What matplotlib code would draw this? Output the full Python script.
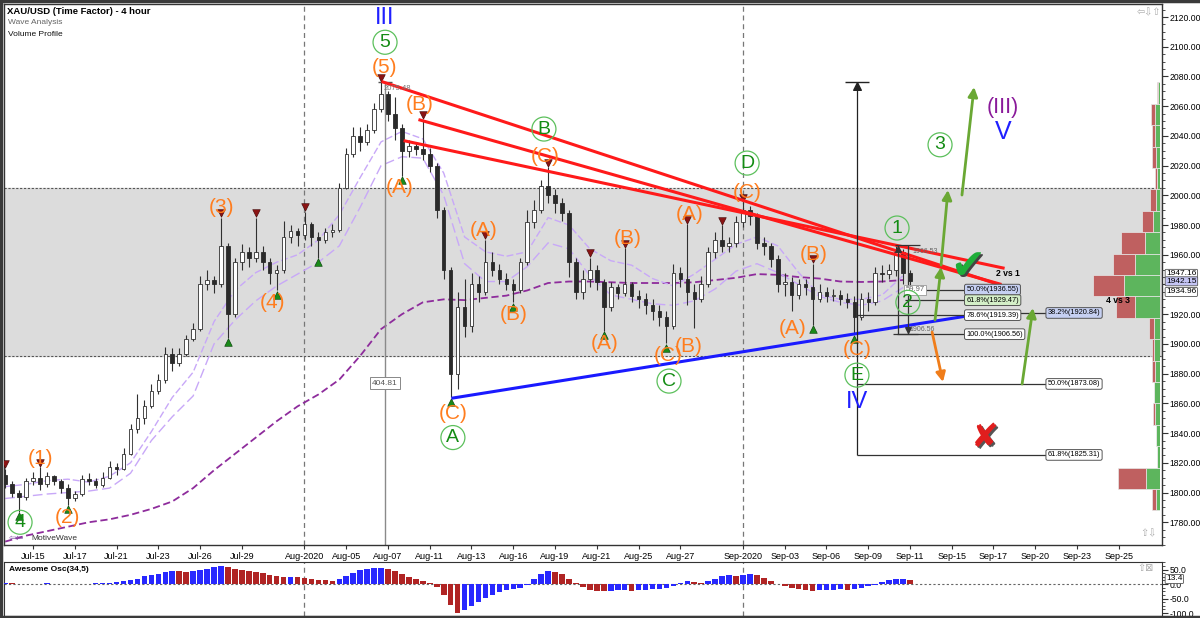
import numpy as np
import matplotlib
matplotlib.use('Agg')
import matplotlib.pyplot as plt
from matplotlib.lines import Line2D

plt.rcParams['font.family'] = ['Liberation Sans', 'DejaVu Sans']

# ---------------- data ----------------
# x axis is counted in trading days, Jul-15 = 0; three price bars per day
first_bar_day = -1.33
bars_per_day = 3
open0 = 1812
close = [1806, 1800, 1797, 1808, 1810, 1806, 1811, 1808, 1803, 1796,
         1799, 1809, 1808, 1805, 1810, 1817, 1816, 1826, 1843, 1850,
         1858, 1868, 1876, 1893, 1887, 1893, 1903, 1910, 1940, 1943,
         1940, 1966, 1920, 1955, 1962, 1958, 1962, 1955, 1948, 1950,
         1972, 1976, 1973, 1981, 1972, 1970, 1975, 1977, 2005, 2028,
         2040, 2036, 2044, 2058, 2068, 2055, 2045, 2030, 2033, 2031,
         2028, 2020, 1990, 1950, 1880, 1925, 1912, 1940, 1935, 1955,
         1950, 1944, 1940, 1936, 1955, 1982, 1990, 2006, 2000, 1995,
         1988, 1955, 1935, 1944, 1950, 1942, 1925, 1938, 1934, 1940,
         1932, 1930, 1926, 1922, 1918, 1912, 1948, 1944, 1935, 1930,
         1940, 1962, 1970, 1966, 1968, 1982, 1990, 1986, 1968, 1966,
         1957, 1940, 1942, 1933, 1940, 1938, 1930, 1935, 1932, 1933,
         1930, 1928, 1918, 1930, 1928, 1948, 1947, 1950, 1962, 1948,
         1942.15]
high = [1816, 1808, 1802, 1810, 1814, 1817, 1814, 1812, 1809, 1806,
        1801, 1812, 1813, 1810, 1814, 1821, 1820, 1830, 1846, 1866,
        1862, 1873, 1880, 1898, 1897, 1897, 1906, 1914, 1946, 1950,
        1946, 1985, 1968, 1958, 1967, 1965, 1985, 1966, 1958, 1953,
        1983, 1980, 1978, 1989, 1982, 1975, 1978, 1981, 2008, 2032,
        2046, 2046, 2048, 2062, 2076, 2070, 2066, 2048, 2037, 2036,
        2051, 2032, 2022, 1992, 1952, 1935, 1944, 1948, 1946, 1970,
        1962, 1954, 1948, 1944, 1958, 1990, 1997, 2010, 2019, 2004,
        1998, 1990, 1958, 1950, 1958, 1953, 1944, 1942, 1940, 1964.5,
        1942, 1936, 1934, 1930, 1926, 1922, 1954, 1952, 1980.7, 1940,
        1946, 1965, 1975, 1980, 1972, 1986, 1995.5, 1993, 1988, 1972,
        1968, 1960, 1948, 1945, 1944, 1944, 1954, 1940, 1938, 1937,
        1936, 1934, 1932, 1934, 1935, 1952, 1953, 1954, 1966.53, 1964,
        1950]
low = [1803, 1797, 1787, 1795, 1805, 1802, 1804, 1805, 1800, 1791.6,
       1794, 1798, 1805, 1803, 1804, 1809, 1812, 1815, 1825, 1840,
       1846, 1857, 1866, 1874, 1882, 1885, 1892, 1902, 1909, 1936,
       1934, 1938, 1904, 1918, 1950, 1952, 1955, 1950, 1940, 1936,
       1948, 1968, 1966, 1970, 1966, 1958, 1968, 1972, 1975, 2004,
       2026, 2030, 2034, 2042, 2056, 2050, 2037, 2013, 2026, 2027,
       2024, 2016, 1985, 1944, 1864, 1870, 1905, 1908, 1928, 1933,
       1946, 1940, 1936, 1928, 1934, 1953, 1978, 1988, 1995, 1988,
       1983, 1945, 1930, 1930, 1938, 1936, 1909, 1922, 1930, 1932,
       1928, 1924, 1920, 1916, 1912, 1900.6, 1910, 1938, 1926, 1911,
       1928, 1938, 1958, 1962, 1962, 1965, 1979, 1980, 1964, 1960,
       1952, 1935, 1932, 1922, 1930, 1933, 1913, 1928, 1928, 1929,
       1926, 1924, 1906.56, 1916, 1922, 1926, 1942, 1944, 1946, 1940,
       1938]
awesome_osc = [3.5, 2.6, 1.7, 1.7, 0.9, 1.7, 2.6, 1.7, 1.7, 0.9,
               0.0, 0.2, 0.9, 2.6, 3.5, 5.2, 7.8, 10.4, 13.0, 19.0,
               26, 30, 35, 40, 44, 43.5, 43, 44.5, 48, 52, 59, 63.5,
               57.4, 52, 48, 44.4, 41, 37.4, 31.3, 26,
               24.4, 25.2, 23.5, 21, 17.4, 14.8, 13, 11.3, 17.4, 28.7,
               39, 47.8, 52, 54, 54.8, 52, 45, 35, 24.4, 17.4,
               10.4, 4.4, -10.4, -39, -74, -100, -91, -76.6, -61, -48.7,
               -36.5, -27.8, -21.8, -17.4, -13.9, -4.4, 19, 34.8, 43.5, 41,
               33, 17.4, 4.4, -10.4, -19, -23.5, -25.2, -23.5, -21.8, -20.9,
               -22.6, -21.8, -19, -17.4, -15.7, -12.2, -5.2, 4.4, 10.4, 7,
               5.2, 11.3, 19, 26, 29.6, 28.7, 31.3, 33, 30.4, 20.9,
               10.4, 1.7, -7, -13.9, -17.4, -20.9, -22.6, -21.8, -20.9, -19,
               -18.3, -20, -17.4, -12.2, -7, -1.7, 7, 12.2, 15.7, 17.4,
               13.4]

# moving averages, one value per day (every third bar)
ma_long = [1767, 1771, 1774, 1777, 1780, 1782, 1785, 1789, 1794, 1803,
           1815, 1826, 1837, 1848, 1858, 1866, 1876, 1892, 1910, 1920,
           1928, 1930, 1929.5, 1931, 1932.5, 1936, 1941, 1942, 1942, 1941.5,
           1941, 1941, 1941, 1941.5, 1943, 1944.5, 1947, 1946.5, 1945, 1944,
           1942, 1941.7, 1942, 1943]
band_upper = [1804, 1805.5, 1808, 1809, 1807, 1811, 1820, 1841, 1864, 1881,
              1915, 1936, 1948, 1955, 1960, 1970, 1987, 2012, 2036, 2043,
              2038, 2015, 1972, 1962, 1959, 1962, 1985, 1980, 1964, 1956,
              1953, 1944, 1939, 1947, 1957, 1967, 1972, 1966, 1948, 1933,
              1930, 1930, 1933, 1946]
band_lower = [1796, 1797.5, 1799, 1800, 1801, 1803, 1813, 1835, 1851, 1865,
              1900, 1916, 1929, 1939, 1947, 1955, 1966, 1992, 2020, 2026,
              2025, 2000, 1954, 1942, 1942, 1952, 1968, 1964, 1946, 1933,
              1930, 1927, 1926, 1929, 1937, 1949, 1954, 1948, 1940, 1932,
              1928, 1926, 1929, 1938]

# swing markers (bar indices)
swing_high_bars = [0, 5, 31, 36, 43, 54, 60, 69, 78, 84, 89, 98, 103, 106, 116]
swing_low_bars = [2, 9, 32, 39, 45, 57, 64, 73, 86, 95, 116, 122]

tick_days = [0, 2, 4, 6, 8, 10, 13, 15, 17, 19, 21, 23, 25, 27, 29, 31,
             34, 36, 38, 40, 42, 44, 46, 48, 50, 52]
tick_labels = ['Jul-15', 'Jul-17', 'Jul-21', 'Jul-23', 'Jul-26', 'Jul-29',
               'Aug-2020', 'Aug-05', 'Aug-07', 'Aug-11', 'Aug-13', 'Aug-16',
               'Aug-19', 'Aug-21', 'Aug-25', 'Aug-27', 'Sep-2020', 'Sep-03',
               'Sep-06', 'Sep-09', 'Sep-11', 'Sep-15', 'Sep-17', 'Sep-20',
               'Sep-23', 'Sep-25']
month_days = [13, 34]

# wave labels: (text, day, price)
orange_labels = [('(1)', 0.34, 1823), ('(2)', 1.63, 1783.5), ('(3)', 9.05, 1991.5),
                 ('(4)', 11.45, 1928), ('(5)', 16.81, 2085.7), ('(A)', 17.58, 2005),
                 ('(B)', 18.53, 2061), ('(C)', 20.11, 1853.5), ('(A)', 21.6, 1976),
                 ('(B)', 23.04, 1919.5), ('(C)', 24.52, 2025.8), ('(A)', 27.39, 1900.6),
                 ('(B)', 28.5, 1971), ('(C)', 30.41, 1892.5), ('(B)', 31.42, 1898),
                 ('(A)', 31.47, 1986.8), ('(C)', 34.2, 2002), ('(A)', 36.4, 1910.7),
                 ('(B)', 37.4, 1960), ('(C)', 39.46, 1896)]
circled_labels = [('4', -0.62, 1780), ('5', 16.86, 2103), ('A', 20.11, 1837),
                  ('B', 24.47, 2044.6), ('C', 30.46, 1875), ('D', 34.2, 2021.7),
                  ('E', 39.46, 1879), ('1', 41.38, 1978), ('2', 41.9, 1928),
                  ('3', 43.44, 2034)]
roman_labels = [('III', 16.86, 2119, '#2020ff', 17), ('IV', 39.46, 1861, '#2020ff', 17),
                ('V', 46.46, 2042.6, '#2020ff', 18), ('(III)', 46.46, 2059.4, '#8a1a9a', 15.5)]

resistance_lines = [((16.76, 2076.3), (46.31, 1939.7)),
                    ((18.53, 2050.7), (46.31, 1940.3)),
                    ((17.82, 2036.6), (46.46, 1951.1))]
support_line = ((20.11, 1863.6), (44.73, 1918.8))

green_arrows = [((43.2, 1916.1), (43.49, 1951.8)),
                ((43.49, 1953.1), (43.82, 2003.6)),
                ((44.49, 2000.2), (45.07, 2072.9)),
                ((47.37, 1873.0), (47.89, 1924.2))]
orange_arrow = ((43.06, 1908), (43.58, 1874.4))

grey_zone = (1892, 2005)

# fibonacci levels
fib2_names = ['50.0%', '61.8%', '78.6%', '100.0%']
fib2_levels = [1936.55, 1929.47, 1919.39, 1906.56]
fib2_start = [41.76, 41.76, 39.46, 41.4]
fib2_colors = ['#c6d0f2', '#d4efc8', 'white', 'white']
fib3_names = ['50.0%', '61.8%']
fib3_levels = [1873.08, 1825.31]
fib4_name, fib4_level = '38.2%', 1920.84
wave1_top, wave1_bottom = 1966.53, 1906.56
measure_top = 2076.3

# volume profile, bins from the bottom up
vp_low, vp_bin = 1788, 14.4
vp_up = [4, 14, 3.2, 4.3, 5.3, 6, 5.5, 6, 6, 25, 36, 25, 15, 6.8, 4.3, 3.5, 4.3, 5, 5, 2]
vp_down = [4.3, 28, 0, 0, 1.5, 0.5, 2.5, 2, 5, 19, 31, 22, 24, 11.7, 5.3, 1.8, 3.5, 3.2, 4, 1.5]

price_tags = [(1947.16, 'white'), (1934.96, 'white'), (1942.15, '#c4c4f4')]

# ---------------- figure ----------------
W, H = 1200, 618


def px_box(x0, y0, x1, y1):
    return [x0 / W, 1 - y1 / H, (x1 - x0) / W, (y1 - y0) / H]


fig = plt.figure(figsize=(12, 6.18), dpi=100)
ax = fig.add_axes(px_box(4, 4, 1162, 545))
ax_o = fig.add_axes(px_box(4, 562, 1162, 616))
vp = fig.add_axes(px_box(1060, 4, 1160, 545))

xlim = (-1.389, 54.07)
ylim = (1764.7, 2128.75)

c = np.array(close, dtype=float)
h = np.array(high, dtype=float)
lo = np.array(low, dtype=float)
o = np.r_[open0, c[:-1]]
t = first_bar_day + np.arange(len(c)) / bars_per_day
up = c >= o

# grey zone
ax.axhspan(*grey_zone, color='#dcdcdc', zorder=0)
for y in grey_zone:
    ax.axhline(y, color='#555555', lw=0.8, ls=(0, (2, 1.5)), zorder=1)
for d in month_days:
    ax.axvline(d, color='#777777', lw=0.9, ls=(0, (4, 3)), zorder=1)
    ax_o.axvline(d, color='#777777', lw=0.9, ls=(0, (4, 3)), zorder=1)

# moving averages
ma_t = t[::3]
ax.plot(ma_t, ma_long, color='#8e2c9c', lw=1.3, ls=(0, (4, 2)), zorder=2)
ax.plot(ma_t, band_upper, color='#c8a8f8', lw=1.0, ls=(0, (5, 2)), zorder=2)
ax.plot(ma_t, band_lower, color='#c8a8f8', lw=1.0, ls=(0, (7, 3)), zorder=2)

# candles
ax.vlines(t, lo, h, color='#303030', lw=0.8, zorder=3)
ax.bar(t[up], (c - o)[up], bottom=o[up], width=0.17, color='white',
       edgecolor='#303030', lw=0.6, zorder=4)
ax.bar(t[~up], (o - c)[~up], bottom=c[~up], width=0.17, color='#2a2a2a',
       edgecolor='#2a2a2a', lw=0.6, zorder=4)

ax.scatter(t[swing_high_bars], h[swing_high_bars] + 3.0, marker='v', s=30,
           color='#8b1414', edgecolor='#3a0000', lw=0.4, zorder=5)
ax.scatter(t[swing_low_bars], lo[swing_low_bars] - 3.0, marker='^', s=30,
           color='#1a8a1a', edgecolor='#003a00', lw=0.4, zorder=5)

# trend lines
for (p0, p1) in resistance_lines:
    ax.plot([p0[0], p1[0]], [p0[1], p1[1]], color='#ff1a1a', lw=2.2, zorder=6)
ax.plot([support_line[0][0], support_line[1][0]],
        [support_line[0][1], support_line[1][1]], color='#1a1aff', lw=2.2, zorder=6)

# III measurement
d3 = circled_labels[1][1]
ax.vlines(d3, ylim[0], measure_top, color='#8a8a8a', lw=1.0, zorder=2)
ax.hlines(measure_top, d3 - 0.35, d3 + 0.35, color='#555555', lw=1.0, zorder=2)
ax.text(d3, 1873.7, '404.81', fontsize=6, color='#555555', ha='center', va='center',
        bbox=dict(boxstyle='square,pad=0.25', fc='white', ec='#888888', lw=0.7), zorder=7)
ax.text(17.43, 2072.2, '2075.48', fontsize=5.5, color='#777777', ha='center',
        va='center', zorder=7)

# wave-V measurement and fib levels
dE = circled_labels[6][1]
ax.vlines(dE, fib3_levels[1], measure_top, color='#222222', lw=0.9, zorder=6)
ax.hlines(measure_top, dE - 0.55, dE + 0.6, color='#222222', lw=1.0, zorder=6)
ax.scatter([dE], [measure_top - 3], marker='^', s=30, color='#222222', zorder=6)
for name, lev in zip(fib3_names, fib3_levels):
    ax.hlines(lev, dE, 48.56, color='#333333', lw=0.9, zorder=6)
    ax.text(48.6, lev, f'{name}({lev:.2f})', fontsize=5.3, ha='left', va='center',
            bbox=dict(boxstyle='round,pad=0.25', fc='white', ec='#555555', lw=0.7), zorder=8)
for name, lev, s0, fc in zip(fib2_names, fib2_levels, fib2_start, fib2_colors):
    ax.hlines(lev, s0, 44.64, color='#333333', lw=0.9, zorder=6)
    ax.text(44.7, lev, f'{name}({lev:.2f})', fontsize=5.3, ha='left', va='center',
            bbox=dict(boxstyle='round,pad=0.25', fc=fc, ec='#555555', lw=0.7), zorder=8)
ax.hlines(fib4_level, 47.25, 48.56, color='#333333', lw=0.9, zorder=6)
ax.text(48.6, fib4_level, f'{fib4_name}({fib4_level:.2f})', fontsize=5.3, ha='left',
        va='center', bbox=dict(boxstyle='round,pad=0.25', fc='#c6d0f2', ec='#555555',
                               lw=0.7), zorder=8)
ax.text(46.7, 1947.5, '2 vs 1', fontsize=6.2, fontweight='bold', ha='center', va='center', zorder=8)
# drawn at figure level so it stays above the volume profile
fig.text(51.96, 1929.5, '4 vs 3', fontsize=6.2, fontweight='bold', ha='center',
         va='center', transform=ax.transData)

for dx in (41.43, 41.9):
    ax.vlines(dx, wave1_bottom, wave1_top, color='#333333', lw=0.9, zorder=6)
ax.hlines(wave1_top, 41.3, 42.5, color='#333333', lw=0.9, zorder=6)
ax.hlines(wave1_bottom, 41.2, 42.4, color='#333333', lw=0.9, zorder=6)
ax.scatter([41.43], [wave1_top - 2.5], marker='^', s=16, color='#333333', zorder=6)
ax.scatter([41.9], [wave1_bottom + 2.5], marker='v', s=16, color='#333333', zorder=6)
ax.text(42.72, 1962.5, f'{wave1_top:.2f}', fontsize=5, color='#666666', ha='center',
        va='center', zorder=7)
ax.text(42.58, 1910.0, f'{wave1_bottom:.2f}', fontsize=5, color='#666666', ha='center',
        va='center', zorder=7)
ax.text(42.24, 1936.3, f'{wave1_top - wave1_bottom:.2f}', fontsize=5.5, color='#666666',
        ha='center', va='center', zorder=7,
        bbox=dict(boxstyle='square,pad=0.2', fc='white', ec='#999999', lw=0.6))

# arrows
for (p0, p1) in green_arrows:
    ax.annotate('', xy=p1, xytext=p0, zorder=9,
                arrowprops=dict(arrowstyle='-|>', color='#6aa834', lw=2.0,
                                mutation_scale=14, shrinkA=0, shrinkB=0))
ax.annotate('', xy=orange_arrow[1], xytext=orange_arrow[0], zorder=9,
            arrowprops=dict(arrowstyle='-|>', color='#f07d1a', lw=2.0,
                            mutation_scale=14, shrinkA=0, shrinkB=0))

# check mark and cross
ax.text(44.88, 1950.5, '\u2714', fontsize=30, color='#444444', ha='center', va='center',
        family='DejaVu Sans', zorder=9)
ax.text(44.78, 1952.0, '\u2714', fontsize=30, color='#1fae3a', ha='center', va='center',
        family='DejaVu Sans', zorder=10)
ax.text(45.68, 1835.5, '\u2718', fontsize=24, color='#555555', ha='center', va='center',
        family='DejaVu Sans', zorder=9)
ax.text(45.6, 1837, '\u2718', fontsize=24, color='#e01e1e', ha='center', va='center',
        family='DejaVu Sans', zorder=10)

# wave labels
for txt, d, p in orange_labels:
    ax.text(d, p, txt, color='#ff7d1e', fontsize=15, ha='center', va='center', zorder=8)
for txt, d, p in circled_labels:
    ax.text(d, p, txt, color='#148c14', fontsize=14, ha='center', va='center', zorder=8,
            bbox=dict(boxstyle='circle,pad=0.18', fc='none', ec='#5cc05c', lw=0.9))
for txt, d, p, col, fs in roman_labels:
    ax.text(d, p, txt, color=col, fontsize=fs, ha='center', va='center', zorder=8)

# axes styling
ax.set_xlim(*xlim)
ax.set_ylim(*ylim)
ax.yaxis.tick_right()
y_major = np.arange(1780, 2121, 20)
ax.set_yticks(y_major)
# the 1940 label sits under the price tags
ax.set_yticklabels(['' if v == 1940 else f'{v:.2f}' for v in y_major])
ax.set_yticks(np.arange(1765, 2126, 5), minor=True)
ax.tick_params(axis='y', which='major', direction='out', length=4, labelsize=6.2,
               pad=1.5, color='#333333')
ax.tick_params(axis='y', which='minor', direction='out', length=2, color='#333333')
ax.set_xticks(tick_days)
ax.set_xticklabels(tick_labels)
ax.tick_params(axis='x', direction='out', length=3, labelsize=6.5, pad=2, color='#333333')
for sp in ax.spines.values():
    sp.set_color('#333333')
    sp.set_linewidth(1.0)

for val, fc in price_tags:
    ax.annotate(f'{val:.2f}', xy=(1.0, val), xycoords=ax.get_yaxis_transform(),
                xytext=(3, 0), textcoords='offset points', fontsize=6.0, ha='left',
                va='center', annotation_clip=False, zorder=12,
                bbox=dict(boxstyle='round,pad=0.12', fc=fc, ec='#555555', lw=0.6))

# volume profile
edges = vp_low + vp_bin * np.arange(len(vp_up))
vp.barh(edges, vp_up, height=vp_bin, align='edge', left=0, color='#5db55d',
        edgecolor='#e8e8e8', lw=0.5)
vp.barh(edges, vp_down, height=vp_bin, align='edge', left=vp_up, color='#bf6060',
        edgecolor='#e8e8e8', lw=0.5)
vp.set_xlim(100, 0)
vp.set_ylim(*ylim)
vp.axis('off')
vp.patch.set_alpha(0)

# awesome oscillator
ao = np.array(awesome_osc)
ao_colors = ['#2828ff' if i == 0 or ao[i] >= ao[i - 1] else '#b02424' for i in range(len(ao))]
ax_o.bar(t, ao, width=0.8 / bars_per_day, color=ao_colors, zorder=3)
ax_o.axhline(0, color='#666666', lw=0.8, ls=(0, (2, 2)), zorder=2)
ax_o.set_xlim(*xlim)
ax_o.set_ylim(-110.3, 75.9)
ax_o.set_xticks([])
ax_o.yaxis.tick_right()
ax_o.set_yticks([50, 0, -50, -100])
ax_o.set_yticklabels(['50.0', '0.0', '-50.0', '-100.0'])
ax_o.set_yticks(np.arange(-100, 76, 12.5), minor=True)
ax_o.tick_params(axis='y', which='major', direction='out', length=4, labelsize=6.2,
                 pad=1.5, color='#333333')
ax_o.tick_params(axis='y', which='minor', direction='out', length=2, color='#333333')
for sp in ax_o.spines.values():
    sp.set_color('#333333')
ax_o.text(0.004, 0.86, 'Awesome Osc(34,5)', transform=ax_o.transAxes, fontsize=6,
          fontweight='bold', va='center', ha='left')
ax_o.annotate(f'{awesome_osc[-1]:.1f}', xy=(1.0, awesome_osc[-1] + 4),
              xycoords=ax_o.get_yaxis_transform(), xytext=(3, 0),
              textcoords='offset points', fontsize=6.0, ha='left', va='center',
              annotation_clip=False, zorder=12,
              bbox=dict(boxstyle='round,pad=0.12', fc='white', ec='#555555', lw=0.6))

# header texts and decorations
fig.text(7 / W, 1 - 11 / H, 'XAU/USD (Time Factor) - 4 hour', fontsize=6.8,
         fontweight='bold', va='center')
fig.text(8 / W, 1 - 23 / H, 'Wave Analysis', fontsize=6, color='#666666', va='center')
fig.text(8 / W, 1 - 34 / H, 'Volume Profile', fontsize=6, color='#111111', va='center')
fig.text(9 / W, 1 - 538 / H, '\u21e6\u21e6', fontsize=6.5, color='#7a4aa0', va='center',
         family='DejaVu Sans')
fig.text(31 / W, 1 - 538 / H, 'MotiveWave', fontsize=6, color='#333333', va='center')
fig.text(1137 / W, 1 - 12 / H, '\u21e6\u21e9\u21e7', fontsize=7, color='#aaaaaa',
         va='center', family='DejaVu Sans')
fig.text(1140 / W, 1 - 533 / H, '\u21e7\u21e9', fontsize=7, color='#aaaaaa',
         va='center', family='DejaVu Sans')
fig.text(1137 / W, 1 - 568 / H, '\u21e7\u22a0', fontsize=7, color='#aaaaaa',
         va='center', family='DejaVu Sans')
# dark window border on top, left and bottom
fig.lines.append(Line2D([0, 1], [0.998, 0.998], transform=fig.transFigure,
                        color='#3a3a3a', lw=2.5))
fig.lines.append(Line2D([0.001, 0.001], [0, 1], transform=fig.transFigure,
                        color='#3a3a3a', lw=2.5))
fig.lines.append(Line2D([0, 1], [0.002, 0.002], transform=fig.transFigure,
                        color='#3a3a3a', lw=2.5))

fig.savefig('out.png', dpi=100)
